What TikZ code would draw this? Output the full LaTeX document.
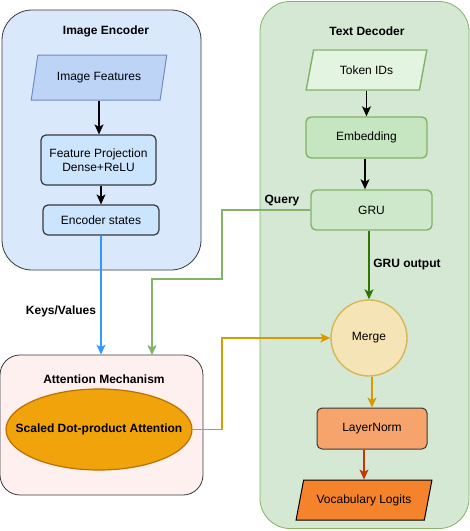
\documentclass[tikz,border=0pt]{standalone}
\usepackage{fontspec}
\setmainfont{Liberation Sans}
\usetikzlibrary{shapes.geometric,arrows.meta,calc}
\definecolor{encfill}{HTML}{DAE8FC}
\definecolor{imffill}{HTML}{BDD4F7}
\definecolor{imfdraw}{HTML}{6C8EBF}
\definecolor{boxblue}{HTML}{CCE5FF}
\definecolor{darkdraw}{HTML}{36393D}
\definecolor{decfill}{HTML}{D5E8D4}
\definecolor{greendraw}{HTML}{82B366}
\definecolor{tokfill}{HTML}{E3F4E0}
\definecolor{embfill}{HTML}{C5E6C0}
\definecolor{grufill}{HTML}{CDE8CA}
\definecolor{gruout}{HTML}{2D7600}
\definecolor{attfill}{HTML}{FFF0F0}
\definecolor{sdpafill}{HTML}{F0A30A}
\definecolor{sdpadraw}{HTML}{BD7000}
\definecolor{orangeline}{HTML}{D79B00}
\definecolor{mergefill}{HTML}{F4E4B6}
\definecolor{mergedraw}{HTML}{D6B656}
\definecolor{lnfill}{HTML}{F6A46C}
\definecolor{redline}{HTML}{C73500}
\definecolor{vlfill}{HTML}{F5832B}
\definecolor{bluearrow}{HTML}{3399FF}
\tikzset{
  every node/.style={font=\fontsize{12}{14}\selectfont, text=black, inner sep=1pt},
  container/.style={draw=darkdraw, line width=0.8pt, rounded corners=30pt},
  title/.style={font=\fontsize{12}{14}\selectfont\bfseries},
  lbl/.style={font=\fontsize{12}{14}\selectfont\bfseries},
  procbox/.style={draw=darkdraw, line width=1.2pt, rounded corners=5pt, fill=boxblue, align=center},
  greenbox/.style={draw=greendraw, line width=1.4pt, rounded corners=5pt, align=center},
  para/.style={trapezium, trapezium stretches=true, line width=1pt, inner sep=0pt},
  arr/.style={-{Stealth[length=10pt,width=9pt,inset=2.5pt]}, line width=1.2pt},
}
\begin{document}
\begin{tikzpicture}[x=1pt,y=-1pt]
\useasboundingbox (0,0) rectangle (470,531);
% containers
\node[container, fill=encfill, minimum width=199pt, minimum height=260pt] (enc) at (101.5,140) {};
\node[title] (enctitle) at (106,31) {Image Encoder};
\node[container, draw=greendraw, fill=decfill, minimum width=209pt, minimum height=527pt] (dec) at (364.5,265) {};
\node[title] (dectitle) at (367,31) {Text Decoder};
\node[container, fill=attfill, rounded corners=20pt, minimum width=203pt, minimum height=140pt] (att) at (101.5,425) {};
\node[title] (atttitle) at (104,379) {Attention Mechanism};
% encoder
\node[para, draw=imfdraw, fill=imffill, trapezium left angle=67, trapezium right angle=113, minimum width=136pt, minimum height=45pt] (imf) at (99,77.5) {Image Features};
\node[procbox, minimum width=115pt, minimum height=50pt] (fp) at (98.5,160) {Feature Projection\\Dense+ReLU};
\node[procbox, minimum width=116pt, minimum height=30pt] (es) at (101,220) {Encoder states};
% decoder
\node[para, draw=greendraw, line width=1.4pt, fill=tokfill, trapezium left angle=67, trapezium right angle=113, minimum width=121pt, minimum height=40pt] (tok) at (366.5,70) {Token IDs};
\node[greenbox, fill=embfill, minimum width=121pt, minimum height=41pt] (emb) at (366.5,137.5) {Embedding};
\node[greenbox, fill=grufill, minimum width=121pt, minimum height=40pt] (gru) at (371.5,210) {GRU};
\node[circle, draw=mergedraw, line width=1.4pt, fill=mergefill, minimum size=76pt] (merge) at (369,338) {Merge};
\node[draw=darkdraw, line width=1pt, rounded corners=5pt, fill=lnfill, minimum width=110pt, minimum height=41pt] (ln) at (372,428.5) {LayerNorm};
\node[para, draw=black, fill=vlfill, trapezium left angle=62, trapezium right angle=118, minimum width=136pt, minimum height=40pt] (vl) at (364,500) {Vocabulary Logits};
% attention
\node[ellipse, draw=sdpadraw, line width=1.2pt, fill=sdpafill, inner sep=0pt, minimum width=186pt, minimum height=81pt,
  label={[font=\fontsize{12}{14}\selectfont\bfseries]center:Scaled Dot-product Attention}] (sdpa) at (99,429.5) {};
% labels
\node[lbl] (kv) at (61,311) {Keys/Values};
\node[lbl] (ql) at (282,201) {Query};
\node[lbl] (gol) at (407,265) {GRU output};
% connectors
\draw[arr] (imf.south) -- (fp.north -| imf.south);
\draw[arr] (fp.south -| es.north) -- (es.north);
\draw[arr, draw=bluearrow, line width=1.3pt] (es.south) -- (es.south |- att.north);
\coordinate (q1) at (222,279);
\coordinate (q2) at (152,355);
\draw[arr, draw=greendraw, line width=1.3pt] (gru.west) -| (q1) -| (q2);
\draw[arr] (tok.south) -- (emb.north -| tok.south);
\draw[arr] (emb.south -| 365,0) -- (gru.north -| 365,0);
\draw[arr, draw=gruout, line width=1.4pt] (gru.south -| merge.north) -- (merge.north);
\coordinate (o1) at (222,338);
\draw[arr, draw=orangeline, line width=1.3pt] (sdpa.east) -| (o1) -- (merge.west);
\draw[arr, draw=orangeline, line width=1.2pt] (merge.south -| ln.north) -- (ln.north);
\draw[arr, draw=redline, line width=1.2pt] (ln.south -| vl.north) -- (vl.north);
\end{tikzpicture}
\end{document}
